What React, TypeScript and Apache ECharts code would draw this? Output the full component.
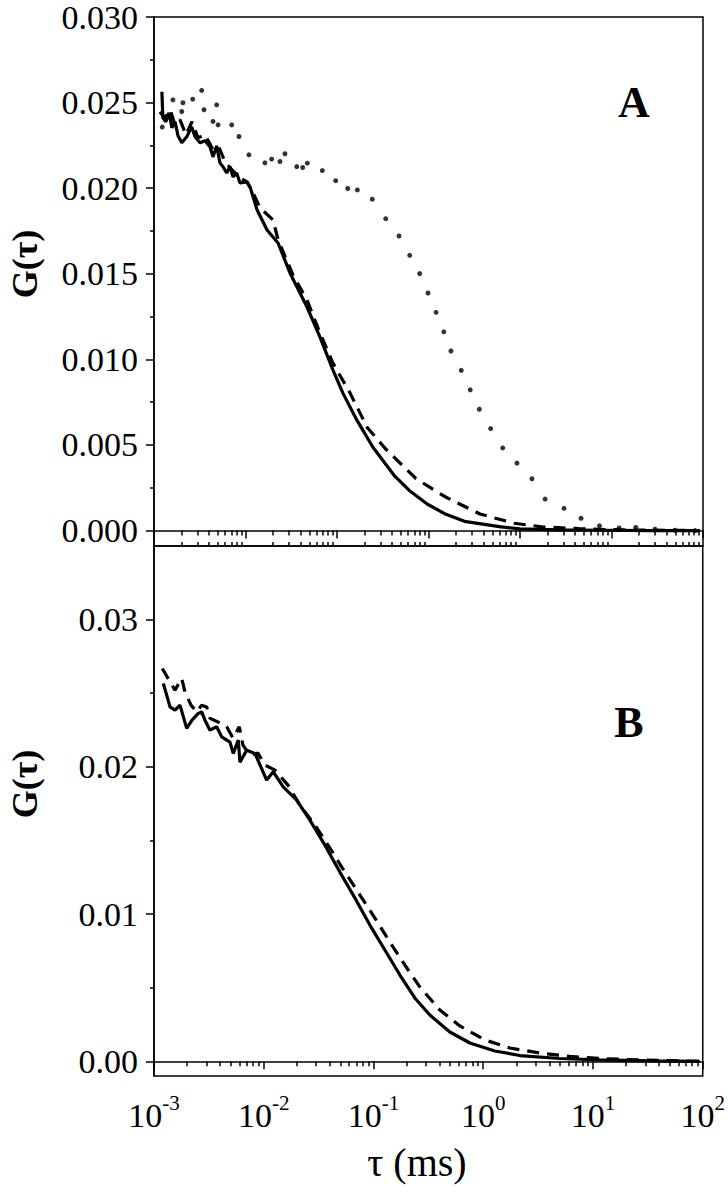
import React, { useEffect, useRef } from "react";
import * as echarts from "echarts";

// ---------- Panel A data (τ in ms, G(τ)) ----------
const A_SOLID_T = [1.22e-3, 1.25e-3, 1.35e-3, 1.46e-3, 1.57e-3, 1.70e-3, 1.83e-3, 2.01e-3, 2.28e-3, 2.58e-3, 2.81e-3, 3.18e-3, 3.61e-3, 4.09e-3, 4.41e-3, 4.84e-3, 5.26e-3, 5.68e-3, 6.23e-3, 6.77e-3, 7.30e-3, 8.01e-3, 8.71e-3, 1.03e-2, 1.12e-2, 1.34e-2, 1.72e-2, 2.27e-2, 3.06e-2, 4.70e-2, 6.52e-2, 9.04e-2, 0.116, 0.165, 0.247, 0.420, 0.612, 0.975, 1.55, 2.47, 6.20, 10.0, 25.4, 74.8, 263, 927];
const A_SOLID_G = [0.02563, 0.02411, 0.02388, 0.02440, 0.02353, 0.02388, 0.02306, 0.02265, 0.02300, 0.02358, 0.02300, 0.02265, 0.02277, 0.02242, 0.02183, 0.02247, 0.02148, 0.02125, 0.02089, 0.02125, 0.02066, 0.02089, 0.02031, 0.02037, 0.02008, 0.01873, 0.01756, 0.01680, 0.01505, 0.01306, 0.01130, 0.00937, 0.00803, 0.00645, 0.00487, 0.00323, 0.00236, 0.00154, 0.00095, 0.00054, 0.00022, 0.00010, 0.00004, 0.00002, 0.0, 0.0];

const A_DASH_T = [1.16e-3, 1.32e-3, 1.50e-3, 1.70e-3, 1.92e-3, 2.24e-3, 2.60e-3, 3.03e-3, 3.61e-3, 4.30e-3, 5.01e-3, 5.97e-3, 7.12e-3, 8.71e-3, 1.04e-2, 1.24e-2, 1.44e-2, 2.00e-2, 2.27e-2, 3.30e-2, 4.70e-2, 6.52e-2, 9.04e-2, 0.139, 0.213, 0.335, 0.730, 1.55, 3.65, 8.60, 17.4, 44.1, 124, 927];
const A_DASH_G = [0.02446, 0.02411, 0.02458, 0.02370, 0.02400, 0.02312, 0.02388, 0.02294, 0.02312, 0.02236, 0.02253, 0.02154, 0.02107, 0.02060, 0.02037, 0.01961, 0.01885, 0.01815, 0.01698, 0.01493, 0.01347, 0.01154, 0.00978, 0.00803, 0.00604, 0.00481, 0.00303, 0.00195, 0.00097, 0.00043, 0.00022, 0.00011, 0.00004, 0.0];

const A_DOT_T = [1.23e-3, 1.61e-3, 2.01e-3, 2.07e-3, 2.65e-3, 3.32e-3, 3.52e-3, 4.41e-3, 4.84e-3, 5.01e-3, 7.07e-3, 8.49e-3, 1.09e-2, 1.63e-2, 1.93e-2, 2.38e-2, 2.70e-2, 3.63e-2, 4.22e-2, 4.74e-2, 6.91e-2, 9.67e-2, 0.131, 0.167, 0.243, 0.341, 0.476, 0.623, 0.801, 0.987, 1.21, 1.47, 1.76, 2.28, 2.86, 3.59, 4.78, 6.47, 9.27, 13.5, 18.8, 30.3, 46.4, 73.9, 121, 184, 299, 494, 818];
const A_DOT_G = [0.02357, 0.02516, 0.02448, 0.02499, 0.02520, 0.02571, 0.02458, 0.02390, 0.02487, 0.02370, 0.02370, 0.02302, 0.02195, 0.02148, 0.02170, 0.02156, 0.02201, 0.02126, 0.02121, 0.02146, 0.02103, 0.02044, 0.01998, 0.01990, 0.01936, 0.01822, 0.01721, 0.01608, 0.01501, 0.01388, 0.01275, 0.01161, 0.01049, 0.00936, 0.00822, 0.00709, 0.00596, 0.00483, 0.00394, 0.00303, 0.00184, 0.00130, 0.00072, 0.00028, 0.00015, 0.00018, 0.00008, 0.00002, 0.0];

// ---------- Panel B data ----------
const B_SOLID_T = [1.215e-3, 1.305e-3, 1.398e-3, 1.553e-3, 1.725e-3, 1.986e-3, 2.219e-3, 2.532e-3, 2.720e-3, 2.913e-3, 3.236e-3, 3.724e-3, 4.135e-3, 4.922e-3, 5.276e-3, 5.857e-3, 6.071e-3, 6.99e-3, 8.316e-3, 1.063e-2, 1.221e-2, 1.505e-2, 1.994e-2, 2.635e-2, 3.608e-2, 4.94e-2, 6.77e-2, 9.27e-2, 0.127, 0.174, 0.238, 0.326, 0.496, 0.755, 1.275, 2.154, 4.984, 11.5, 32.9, 93.9];
const B_SOLID_G = [0.02566, 0.02487, 0.02407, 0.02385, 0.02419, 0.02261, 0.02317, 0.02363, 0.02373, 0.02317, 0.02249, 0.02272, 0.02204, 0.02168, 0.02091, 0.02181, 0.02032, 0.02113, 0.02091, 0.01910, 0.01966, 0.01864, 0.01774, 0.01638, 0.01468, 0.01285, 0.01109, 0.00925, 0.00756, 0.00586, 0.00430, 0.00314, 0.00199, 0.00124, 0.00070, 0.00039, 0.00019, 0.00009, 0.00003, 0.0];

const B_DASH_T = [1.190e-3, 1.398e-3, 1.553e-3, 1.788e-3, 1.916e-3, 2.173e-3, 2.448e-3, 2.720e-3, 3.020e-3, 3.236e-3, 3.827e-3, 4.594e-3, 5.243e-3, 5.982e-3, 6.465e-3, 7.485e-3, 8.857e-3, 1.025e-2, 1.265e-2, 1.661e-2, 2.137e-2, 2.926e-2, 4.007e-2, 5.49e-2, 7.52e-2, 0.103, 0.141, 0.193, 0.265, 0.402, 0.612, 1.034, 1.747, 3.277, 6.147, 11.5, 26.7, 93.9];
const B_DASH_G = [0.02668, 0.02577, 0.02521, 0.02600, 0.02509, 0.02419, 0.02373, 0.02419, 0.02407, 0.02329, 0.02304, 0.02272, 0.02195, 0.02272, 0.02147, 0.02079, 0.02093, 0.02012, 0.01978, 0.01876, 0.01740, 0.01604, 0.01448, 0.01285, 0.01129, 0.00973, 0.00810, 0.00654, 0.00504, 0.00348, 0.00240, 0.00145, 0.00090, 0.00056, 0.00033, 0.00019, 0.00009, 0.0];

// ---------- Axis ticks ----------
const DECADES_A = [1e-3, 1e-2, 1e-1, 1, 10, 100, 1000];
const DECADES_B = [1e-3, 1e-2, 1e-1, 1, 10, 100];
const MINOR_MULT = [2, 3, 4, 5, 6, 7, 8, 9];
const Y_TICKS_A = [0, 0.005, 0.01, 0.015, 0.02, 0.025, 0.03];
const Y_MINOR_A = [0.0025, 0.0075, 0.0125, 0.0175, 0.0225, 0.0275];
const Y_TICKS_B = [0, 0.01, 0.02, 0.03];
const Y_MINOR_B = [0.005, 0.015, 0.025];

const minorOf = (dec: number[]) =>
  dec.slice(0, -1).flatMap((d) => MINOR_MULT.map((m) => +(d * m).toPrecision(3)));

const zip = (t: number[], g: number[]) => t.map((v, i) => [v, g[i]]);

const FONT = "Liberation Serif";

export default function App() {
  const ref = useRef<HTMLDivElement>(null);

  useEffect(() => {
    document.body.style.margin = "0";
    if (!ref.current) return;
    const chart = echarts.init(ref.current, undefined, { renderer: "svg" });

    const axLine = { show: true, lineStyle: { color: "#000", width: 1.5 } };
    const tickLS = { color: "#000", width: 1.5 };
    const gL = 154, gW = 549;

    const logX = (grid: number, max: number, extra: any) => ({
      type: "log",
      logBase: 10,
      gridIndex: grid,
      min: 1e-3,
      max,
      position: "bottom",
      splitLine: { show: false },
      axisLabel: { show: false },
      axisLine: { show: false },
      ...extra,
    });

    const option: any = {
      animation: false,
      backgroundColor: "#fff",
      grid: [
        { left: gL, top: 17, width: gW, height: 529, show: true, borderColor: "#000", borderWidth: 1.5, backgroundColor: "transparent" },
        { left: gL, top: 546, width: gW, height: 530, show: true, borderColor: "#000", borderWidth: 1.5, backgroundColor: "transparent" },
      ],
      xAxis: [
        logX(0, 1000, {
          axisLine: axLine,
          axisTick: { show: true, inside: false, length: 8, customValues: DECADES_A, lineStyle: tickLS },
        }),
        logX(0, 1000, {
          axisTick: { show: true, inside: false, length: 5, customValues: minorOf(DECADES_A), lineStyle: tickLS },
        }),
        logX(0, 1000, {
          axisTick: { show: true, inside: true, length: 4, customValues: minorOf(DECADES_A), lineStyle: tickLS },
        }),
        logX(1, 100, {
          axisLine: axLine,
          axisTick: { show: true, inside: false, length: 8, customValues: DECADES_B, lineStyle: tickLS },
          axisLabel: {
            show: true,
            customValues: DECADES_B,
            margin: 16,
            formatter: (v: number) => `{b|10}{s|${Math.round(Math.log10(v))}}`,
            rich: {
              b: { fontFamily: FONT, fontSize: 34, color: "#000", lineHeight: 40, verticalAlign: "bottom" },
              s: { fontFamily: FONT, fontSize: 21, color: "#000", lineHeight: 22, verticalAlign: "top" },
            },
          },
        }),
        logX(1, 100, {
          axisTick: { show: true, inside: false, length: 5, customValues: minorOf(DECADES_B), lineStyle: tickLS },
        }),
      ],
      yAxis: [
        {
          type: "value", gridIndex: 0, min: -0.0009, max: 0.03, position: "left",
          splitLine: { show: false }, axisLine: axLine,
          axisTick: { show: true, length: 8, customValues: Y_TICKS_A, lineStyle: tickLS },
          axisLabel: { customValues: Y_TICKS_A, margin: 16, fontFamily: FONT, fontSize: 34, color: "#000", formatter: (v: number) => v.toFixed(3) },
        },
        {
          type: "value", gridIndex: 0, min: -0.0009, max: 0.03, position: "left",
          splitLine: { show: false }, axisLine: { show: false }, axisLabel: { show: false },
          axisTick: { show: true, length: 4, customValues: Y_MINOR_A, lineStyle: tickLS },
        },
        {
          type: "value", gridIndex: 1, min: -0.001, max: 0.035, position: "left",
          splitLine: { show: false }, axisLine: axLine,
          axisTick: { show: true, length: 8, customValues: Y_TICKS_B, lineStyle: tickLS },
          axisLabel: { customValues: Y_TICKS_B, margin: 16, fontFamily: FONT, fontSize: 34, color: "#000", formatter: (v: number) => v.toFixed(2) },
        },
        {
          type: "value", gridIndex: 1, min: -0.001, max: 0.035, position: "left",
          splitLine: { show: false }, axisLine: { show: false }, axisLabel: { show: false },
          axisTick: { show: true, length: 4, customValues: Y_MINOR_B, lineStyle: tickLS },
        },
      ],
      series: [
        {
          type: "line", xAxisIndex: 0, yAxisIndex: 0, data: zip(A_SOLID_T, A_SOLID_G),
          symbol: "none", lineStyle: { color: "#000", width: 3.2 }, z: 3,
        },
        {
          type: "line", xAxisIndex: 0, yAxisIndex: 0, data: zip(A_DASH_T, A_DASH_G),
          symbol: "none", lineStyle: { color: "#000", width: 3.2, type: [12, 8] }, z: 3,
        },
        {
          type: "scatter", xAxisIndex: 0, yAxisIndex: 0, data: zip(A_DOT_T, A_DOT_G),
          symbol: "circle", symbolSize: 5, itemStyle: { color: "#000" }, z: 3,
        },
        {
          type: "line", xAxisIndex: 3, yAxisIndex: 2, data: zip(B_SOLID_T, B_SOLID_G),
          symbol: "none", lineStyle: { color: "#000", width: 3.2 }, z: 3,
        },
        {
          type: "line", xAxisIndex: 3, yAxisIndex: 2, data: zip(B_DASH_T, B_DASH_G),
          symbol: "none", lineStyle: { color: "#000", width: 3.2, type: [12, 8] }, z: 3,
        },
      ],
      graphic: [
        { type: "text", x: 634, y: 102, style: { text: "A", font: `bold 44px "${FONT}"`, fill: "#000", textAlign: "center", textVerticalAlign: "middle" } },
        { type: "text", x: 629, y: 722, style: { text: "B", font: `bold 44px "${FONT}"`, fill: "#000", textAlign: "center", textVerticalAlign: "middle" } },
        { type: "text", x: 25, y: 264, rotation: Math.PI / 2, style: { text: "G(τ)", font: `bold 36px "${FONT}"`, fill: "#000", textAlign: "center", textVerticalAlign: "middle" } },
        { type: "text", x: 25, y: 784, rotation: Math.PI / 2, style: { text: "G(τ)", font: `bold 36px "${FONT}"`, fill: "#000", textAlign: "center", textVerticalAlign: "middle" } },
        { type: "text", x: 417, y: 1162, style: { text: "τ (ms)", font: `40px "${FONT}"`, fill: "#000", textAlign: "center", textVerticalAlign: "middle" } },
      ],
    };

    chart.setOption(option);
    return () => chart.dispose();
  }, []);

  return <div ref={ref} style={{ width: 728, height: 1200 }} />;
}
